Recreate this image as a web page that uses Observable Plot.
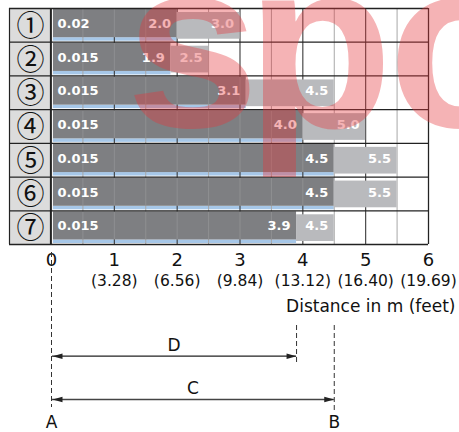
<!DOCTYPE html>
<html>
<head>
<meta charset="utf-8">
<script src="https://cdn.jsdelivr.net/npm/d3@7"></script>
<script src="https://cdn.jsdelivr.net/npm/@observablehq/plot@0.6"></script>
<style>
  html, body { margin: 0; padding: 0; background: #fff; }
  #chart svg { display: block; overflow: visible; }
</style>
</head>
<body>
<div id="chart"></div>
<script>
// ---- data ----
const rows = ["①", "②", "③", "④", "⑤", "⑥", "⑦"];
const minDistance = [0.02, 0.015, 0.015, 0.015, 0.015, 0.015, 0.015];
const darkRange = [2.0, 1.9, 3.1, 4.0, 4.5, 4.5, 3.9];
const lightRange = [3.0, 2.5, 4.5, 5.0, 5.5, 5.5, 4.5];
const meterTicks = [0, 1, 2, 3, 4, 5, 6];
const feetLabels = ["", "(3.28)", "(6.56)", "(9.84)", "(13.12)", "(16.40)", "(19.69)"];
const axisTitle = "Distance in m (feet)";
const watermark = "spo";

const table = rows.map((row, i) => ({
  row, i, min: minDistance[i], dark: darkRange[i], light: lightRange[i]
}));
const ref = table[table.length - 1]; // D and C distances from row ⑦
const distances = [
  {name: "D", value: ref.dark},
  {name: "C", value: ref.light}
];

// ---- layout ----
const W = 459, H = 432, mTop = 8, mBottom = 188, mLeft = 51, mRight = 31;
const rowH = (H - mTop - mBottom) / rows.length;
const below = p => rows.length + p / rowH; // pixels below the frame, in row units
const gridX = d3.range(0, 6.001, 0.5);
const font = "DejaVu Sans, sans-serif";
const darkC = "#7e7f82", lightC = "#b9babd", blueC = "#a6c7e8";
const wmOffsets = [141, 268, 410]; // watermark letter offsets from frame left

// custom filled arrowhead symbols (tip at origin)
const headRight = {draw(ctx) { ctx.moveTo(0, 0); ctx.lineTo(-10, -2.8); ctx.lineTo(-10, 2.8); ctx.closePath(); }};
const headLeft = {draw(ctx) { ctx.moveTo(0, 0); ctx.lineTo(10, -2.8); ctx.lineTo(10, 2.8); ctx.closePath(); }};

const chart = Plot.plot({
  width: W, height: H,
  marginTop: mTop, marginBottom: mBottom, marginLeft: mLeft, marginRight: mRight,
  x: {domain: [0, 6], axis: null},
  y: {domain: [0, rows.length], reverse: true, axis: null},
  style: {background: "#fff", fontFamily: font, overflow: "visible"},
  marks: [
    // label column boxes
    Plot.rect(table, {x1: 0, x2: 0, y1: "i", y2: d => d.i + 1, insetLeft: -42, insetRight: 1, fill: "#dcdcdc"}),
    // blue strips under dark bars
    Plot.rect(table, {x1: 0, x2: "dark", y1: "i", y2: d => d.i + 1, insetLeft: 2, insetTop: rowH - 4.5, insetBottom: 1, fill: blueC}),
    Plot.rect(table.filter(d => d.i === 0), {x1: 0, x2: "dark", y1: "i", y2: d => d.i + 1, insetLeft: 2, insetTop: 0.5, insetBottom: rowH - 3.5, fill: blueC}),
    // vertical grid
    Plot.ruleX(gridX, {x: d => d, y1: 0, y2: rows.length,
      stroke: d => Number.isInteger(d) ? "#3a3a3a" : "#a8a8a8", strokeWidth: d => Number.isInteger(d) ? 1.1 : 1}),
    // dark bars
    Plot.rect(table, {x1: 0, x2: "dark", y1: "i", y2: d => d.i + 1, insetLeft: 2, insetTop: 1, insetBottom: 4.5, fill: darkC}),
    // faint grid showing through dark bars
    Plot.ruleX(table.flatMap(d => gridX.filter(g => g > 0 && g < d.dark).map(g => ({g, i: d.i}))),
      {x: "g", y1: "i", y2: d => d.i + 1, insetTop: 1, insetBottom: 4.5, stroke: "#fff", strokeOpacity: 0.13}),
    // light bars
    Plot.rect(table, {x1: "dark", x2: "light", y1: "i", y2: d => d.i + 1, insetTop: 4, insetBottom: 3, fill: lightC}),
    // row separators and label box borders
    Plot.ruleY(d3.range(rows.length + 1), {y: d => d, x1: 0, x2: 6, insetLeft: -42, stroke: "#222", strokeWidth: 1.3}),
    Plot.ruleX([0], {x: d => d, y1: 0, y2: rows.length, dx: -42, stroke: "#222", strokeWidth: 1.2}),
    Plot.ruleX([0], {x: d => d, y1: 0, y2: rows.length, dx: -1, stroke: "#222", strokeWidth: 1.2}),
    Plot.ruleX([6], {x: d => d, y1: 0, y2: rows.length, stroke: "#222", strokeWidth: 1.2}),
    // row labels
    Plot.text(table, {x: 0, y: d => d.i + 0.5, text: "row", dx: -21, dy: 1.5,
      fontSize: 28, fontFamily: "Noto Sans CJK JP, DejaVu Sans", fill: "#111"}),
    // bar value labels
    Plot.text(table, {x: 0, y: d => d.i + 0.5, text: d => String(d.min), dx: 6, dy: -1.5, textAnchor: "start",
      fill: "#fff", fontSize: 13, fontWeight: "bold", fontFamily: font}),
    Plot.text(table, {x: "dark", y: d => d.i + 0.5, text: d => d.dark.toFixed(1), dx: -6, dy: -1.5, textAnchor: "end",
      fill: "#fff", fontSize: 13, fontWeight: "bold", fontFamily: font}),
    Plot.text(table, {x: "light", y: d => d.i + 0.5, text: d => d.light.toFixed(1), dx: -6, dy: -1.5, textAnchor: "end",
      fill: "#fff", fontSize: 13, fontWeight: "bold", fontFamily: font}),
    // axis tick labels
    Plot.text(meterTicks, {x: d => d, y: below(16), text: d => String(d), fontSize: 18, fill: "#111", fontFamily: font}),
    Plot.text(meterTicks, {x: d => d, y: below(36.5), text: (d, i) => feetLabels[i], fontSize: 15.5, fill: "#111", fontFamily: font}),
    Plot.text([axisTitle], {x: 6, y: below(62), text: d => d, textAnchor: "end", dx: 27, fontSize: 17, fill: "#111", fontFamily: font}),
    // dimension guides
    Plot.ruleX([0], {x: d => d, y1: below(8), y2: below(163), stroke: "#333", strokeDasharray: "5,3", strokeWidth: 1}),
    Plot.ruleX(distances, {x: "value", y1: below(81), y2: d => d.name === "D" ? below(119) : below(166),
      stroke: "#333", strokeDasharray: "5,3", strokeWidth: 1}),
    Plot.ruleY(distances, {x1: 0, x2: "value", y: d => d.name === "D" ? below(111.7) : below(155),
      stroke: d => d.name === "D" ? "#222" : "#444", strokeWidth: d => d.name === "D" ? 1.3 : 1.6, insetLeft: 1}),
    Plot.dot(distances, {x: 0, y: d => d.name === "D" ? below(111.7) : below(155), symbol: headLeft, fill: "#222", stroke: null, dx: 1}),
    Plot.dot(distances, {x: "value", y: d => d.name === "D" ? below(111.7) : below(155), symbol: headRight, fill: "#222", stroke: null}),
    Plot.text(distances, {x: d => d.value / 2, y: d => d.name === "D" ? below(101) : below(144), text: "name",
      fontSize: 17, fill: "#111", fontFamily: font}),
    Plot.text(["A", "B"], {x: (d, i) => i === 0 ? 0 : ref.light, y: below(178), text: d => d, fontSize: 17, fill: "#111", fontFamily: font}),
    // watermark, one letter per mark
    ...watermark.split("").map((ch, k) => Plot.text([ch], {frameAnchor: "top-left", dx: wmOffsets[k], dy: 118, text: d => d,
      textAnchor: "middle", lineAnchor: "bottom",
      fontSize: 240, fontWeight: "bold", fontFamily: "Liberation Sans, Arial", fill: "#e5363c", fillOpacity: 0.38}))
  ]
});
document.getElementById("chart").append(chart);
</script>
</body>
</html>
